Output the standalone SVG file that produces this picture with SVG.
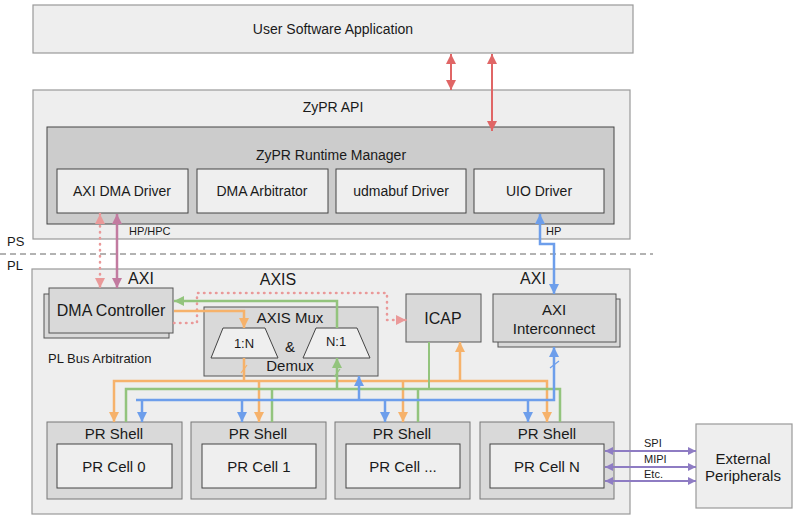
<svg xmlns="http://www.w3.org/2000/svg" width="794" height="516" viewBox="0 0 794 516">
  <style>
    text { font-family: "Liberation Sans", Arial, sans-serif; fill: #1a1a1a; text-anchor: middle; }
    .outer { fill: #eeeeee; stroke: #999999; stroke-width: 1.2; }
    .mgr { fill: #cccccc; stroke: #444444; stroke-width: 1; }
    .light { fill: #efefef; stroke: #444444; stroke-width: 1; }
    .mid { fill: #d9d9d9; stroke: #555555; stroke-width: 1; }
    .shell { fill: #d9d9d9; stroke: #777777; stroke-width: 1; }
    .t14 { font-size: 14px; }
    .t15 { font-size: 15px; }
    .t16 { font-size: 16px; }
    .t13 { font-size: 13px; }
    .t11 { font-size: 11px; }
    .l { text-anchor: start; }
    .c { fill: none; stroke-width: 2.5; }
    .thin { stroke-width: 2; }
    .red { stroke: #e06666; }
    .pink { stroke: #ea9999; stroke-dasharray: 0.5 5.5; stroke-linecap: round; stroke-width: 2.5; }
    .mauve { stroke: #c27ba0; }
    .blue { stroke: #6d9eeb; }
    .orange { stroke: #f6b26b; }
    .green { stroke: #93c47d; }
    .purple { stroke: #8e7cc3; }
  </style>
  <defs>
    <marker id="ah-red" viewBox="0 0 10 10" refX="10" refY="5" markerWidth="12" markerHeight="10" markerUnits="userSpaceOnUse" orient="auto-start-reverse"><path d="M0,0 L10,5 L0,10 z" fill="#e06666"/></marker>
    <marker id="ah-pink" viewBox="0 0 10 10" refX="10" refY="5" markerWidth="12" markerHeight="10" markerUnits="userSpaceOnUse" orient="auto-start-reverse"><path d="M0,0 L10,5 L0,10 z" fill="#ea9999"/></marker>
    <marker id="ah-mauve" viewBox="0 0 10 10" refX="10" refY="5" markerWidth="12" markerHeight="10" markerUnits="userSpaceOnUse" orient="auto-start-reverse"><path d="M0,0 L10,5 L0,10 z" fill="#c27ba0"/></marker>
    <marker id="ah-blue" viewBox="0 0 10 10" refX="10" refY="5" markerWidth="12" markerHeight="10" markerUnits="userSpaceOnUse" orient="auto-start-reverse"><path d="M0,0 L10,5 L0,10 z" fill="#6d9eeb"/></marker>
    <marker id="ah-orange" viewBox="0 0 10 10" refX="10" refY="5" markerWidth="12" markerHeight="10" markerUnits="userSpaceOnUse" orient="auto-start-reverse"><path d="M0,0 L10,5 L0,10 z" fill="#f6b26b"/></marker>
    <marker id="ah-green" viewBox="0 0 10 10" refX="10" refY="5" markerWidth="12" markerHeight="10" markerUnits="userSpaceOnUse" orient="auto-start-reverse"><path d="M0,0 L10,5 L0,10 z" fill="#93c47d"/></marker>
    <marker id="ah-purple" viewBox="0 0 10 10" refX="10" refY="5" markerWidth="10" markerHeight="8" markerUnits="userSpaceOnUse" orient="auto-start-reverse"><path d="M0,0 L10,5 L0,10 z" fill="#8e7cc3"/></marker>
  </defs>

  <!-- software side -->
  <g id="user-app">
    <rect class="outer" x="33" y="5" width="600" height="48"/>
    <text class="t14" x="333" y="34">User Software Application</text>
  </g>
  <g id="zypr-api">
    <rect class="outer" x="33" y="90" width="597" height="149"/>
    <text class="t14" x="333" y="112">ZyPR API</text>
  </g>
  <g id="runtime-manager">
    <rect class="mgr" x="47" y="127" width="567" height="97"/>
    <text class="t14" x="331" y="160">ZyPR Runtime Manager</text>
  </g>
  <g id="axi-dma-driver">
    <rect class="light" x="57" y="169" width="131" height="44"/>
    <text class="t14" x="122" y="196">AXI DMA Driver</text>
  </g>
  <g id="dma-arbitrator">
    <rect class="light" x="197" y="169" width="131" height="44"/>
    <text class="t14" x="262" y="196">DMA Arbitrator</text>
  </g>
  <g id="udmabuf-driver">
    <rect class="light" x="336" y="169" width="130" height="44"/>
    <text class="t14" x="401" y="196">udmabuf Driver</text>
  </g>
  <g id="uio-driver">
    <rect class="light" x="474" y="169" width="130" height="44"/>
    <text class="t14" x="539" y="196">UIO Driver</text>
  </g>

  <!-- PS / PL split -->
  <g id="ps-pl-boundary">
    <line x1="0" y1="254" x2="653" y2="254" stroke="#666666" stroke-width="1" stroke-dasharray="6 4"/>
    <text class="t13 l" x="7" y="246">PS</text>
    <text class="t13 l" x="7" y="270">PL</text>
  </g>

  <!-- programmable logic side -->
  <g id="pl-region">
    <rect class="outer" x="32" y="269" width="598" height="245"/>
    <text class="t16" x="141" y="284">AXI</text>
    <text class="t16" x="278" y="285">AXIS</text>
    <text class="t16" x="533" y="284">AXI</text>
    <text class="t13 l" x="48" y="363">PL Bus Arbitration</text>
  </g>
  <g id="dma-controller">
    <rect class="mid" x="44" y="294" width="125" height="44"/>
    <rect class="mid" x="49" y="288" width="124" height="45"/>
    <text class="t16" x="111" y="316">DMA Controller</text>
  </g>
  <g id="axis-mux">
    <rect class="mid" x="204" y="307" width="174" height="69"/>
    <text class="t15" x="290" y="323">AXIS Mux</text>
    <text class="t15" x="290" y="352">&amp;</text>
    <text class="t15" x="290" y="371">Demux</text>
    <polygon class="light" points="223,328 265,328 278,358 211,358"/>
    <text class="t13" x="244" y="348">1:N</text>
    <polygon class="light" points="316,328 357,328 370,358 303,358"/>
    <text class="t13" x="336" y="346">N:1</text>
  </g>
  <g id="icap">
    <rect class="mid" x="406" y="294" width="75" height="48"/>
    <text class="t16" x="443" y="324">ICAP</text>
  </g>
  <g id="axi-interconnect">
    <rect class="mid" x="498" y="299" width="122" height="48"/>
    <rect class="mid" x="493" y="294" width="123" height="48"/>
    <text class="t15" x="554" y="315">AXI</text>
    <text class="t15" x="554" y="334">Interconnect</text>
  </g>

  <g id="pr-shell-0">
    <rect class="shell" x="47" y="422" width="135" height="77"/>
    <text class="t15" x="114" y="439">PR Shell</text>
    <rect class="light" x="57" y="444" width="115" height="44"/>
    <text class="t15" x="114" y="472">PR Cell 0</text>
  </g>
  <g id="pr-shell-1">
    <rect class="shell" x="191" y="422" width="135" height="77"/>
    <text class="t15" x="258" y="439">PR Shell</text>
    <rect class="light" x="202" y="444" width="114" height="44"/>
    <text class="t15" x="259" y="472">PR Cell 1</text>
  </g>
  <g id="pr-shell-dots">
    <rect class="shell" x="335" y="422" width="135" height="77"/>
    <text class="t15" x="402" y="439">PR Shell</text>
    <rect class="light" x="346" y="444" width="114" height="44"/>
    <text class="t15" x="403" y="472">PR Cell ...</text>
  </g>
  <g id="pr-shell-n">
    <rect class="shell" x="480" y="422" width="134" height="77"/>
    <text class="t15" x="547" y="439">PR Shell</text>
    <rect class="light" x="490" y="444" width="114" height="44"/>
    <text class="t15" x="547" y="472">PR Cell N</text>
  </g>

  <g id="external-peripherals">
    <rect class="outer" x="696" y="424" width="96" height="84"/>
    <text class="t15" x="743" y="464">External</text>
    <text class="t15" x="743" y="481">Peripherals</text>
  </g>

  <g id="connectors">
    <!-- application to API / runtime -->
    <line class="c thin red" x1="451" y1="54" x2="451" y2="90" marker-start="url(#ah-red)" marker-end="url(#ah-red)"/>
    <line class="c thin red" x1="492" y1="54" x2="492" y2="131" marker-start="url(#ah-red)" marker-end="url(#ah-red)"/>

    <!-- DMA driver to DMA controller -->
    <line class="c pink" x1="100" y1="214" x2="100" y2="288" marker-start="url(#ah-pink)" marker-end="url(#ah-pink)"/>
    <line class="c mauve" x1="117" y1="214" x2="117" y2="288" marker-start="url(#ah-mauve)" marker-end="url(#ah-mauve)"/>
    <text class="t11 l" x="129" y="235">HP/HPC</text>

    <!-- UIO driver to AXI interconnect -->
    <polyline class="c blue" points="540,214 540,244 554,244 554,294" marker-start="url(#ah-blue)" marker-end="url(#ah-blue)"/>
    <text class="t11 l" x="546" y="235">HP</text>

    <!-- DMA controller to ICAP (dotted) -->
    <polyline class="c pink" points="174,323 197,323 197,293 387,293 387,320 406,320" marker-end="url(#ah-pink)"/>

    <!-- DMA controller stream out / in -->
    <polyline class="c orange" points="174,311 244,311 244,328" marker-end="url(#ah-orange)"/>
    <polyline class="c green" points="337,328 337,301 174,301" marker-end="url(#ah-green)"/>

    <!-- orange bus: demux outputs to shells and ICAP -->
    <line class="c orange" x1="244" y1="358" x2="244" y2="381"/>
    <line x1="241" y1="373" x2="247" y2="365" stroke="#f6b26b" stroke-width="1.2"/>
    <polyline class="c orange" points="114,422 114,381 547,381 547,422" marker-start="url(#ah-orange)" marker-end="url(#ah-orange)"/>
    <line class="c orange" x1="259" y1="381" x2="259" y2="422" marker-end="url(#ah-orange)"/>
    <line class="c orange" x1="403" y1="381" x2="403" y2="422" marker-end="url(#ah-orange)"/>
    <line class="c orange" x1="460" y1="381" x2="460" y2="342" marker-end="url(#ah-orange)"/>

    <!-- green bus: shells and ICAP to mux input -->
    <polyline class="c green" points="126,422 126,389 560,389 560,422"/>
    <line class="c green" x1="272" y1="389" x2="272" y2="422"/>
    <line class="c green" x1="418" y1="389" x2="418" y2="422"/>
    <line class="c thin green" x1="429" y1="342" x2="429" y2="389"/>
    <line class="c green" x1="337" y1="389" x2="337" y2="358" marker-end="url(#ah-green)"/>
    <line x1="334" y1="377" x2="340" y2="369" stroke="#93c47d" stroke-width="1.2"/>

    <!-- blue bus: AXI control to shells and mux -->
    <polyline class="c blue" points="136,400 554,400 554,347" marker-end="url(#ah-blue)"/>
    <line x1="550" y1="368" x2="559" y2="361" stroke="#6d9eeb" stroke-width="1.2"/>
    <line class="c blue" x1="142" y1="400" x2="142" y2="422" marker-end="url(#ah-blue)"/>
    <line class="c blue" x1="242" y1="400" x2="242" y2="422" marker-end="url(#ah-blue)"/>
    <line class="c blue" x1="385" y1="400" x2="385" y2="422" marker-end="url(#ah-blue)"/>
    <line class="c blue" x1="528" y1="400" x2="528" y2="422" marker-end="url(#ah-blue)"/>
    <line class="c blue" x1="359" y1="400" x2="359" y2="376" marker-end="url(#ah-blue)"/>

    <!-- PR cell N to external peripherals -->
    <line class="c thin purple" x1="605" y1="451" x2="696" y2="451" marker-start="url(#ah-purple)" marker-end="url(#ah-purple)"/>
    <line class="c thin purple" x1="605" y1="467" x2="696" y2="467" marker-start="url(#ah-purple)" marker-end="url(#ah-purple)"/>
    <line class="c thin purple" x1="605" y1="481" x2="696" y2="481" marker-start="url(#ah-purple)" marker-end="url(#ah-purple)"/>
    <text class="t11 l" x="644" y="447">SPI</text>
    <text class="t11 l" x="644" y="463">MIPI</text>
    <text class="t11 l" x="644" y="478">Etc.</text>
  </g>
</svg>
